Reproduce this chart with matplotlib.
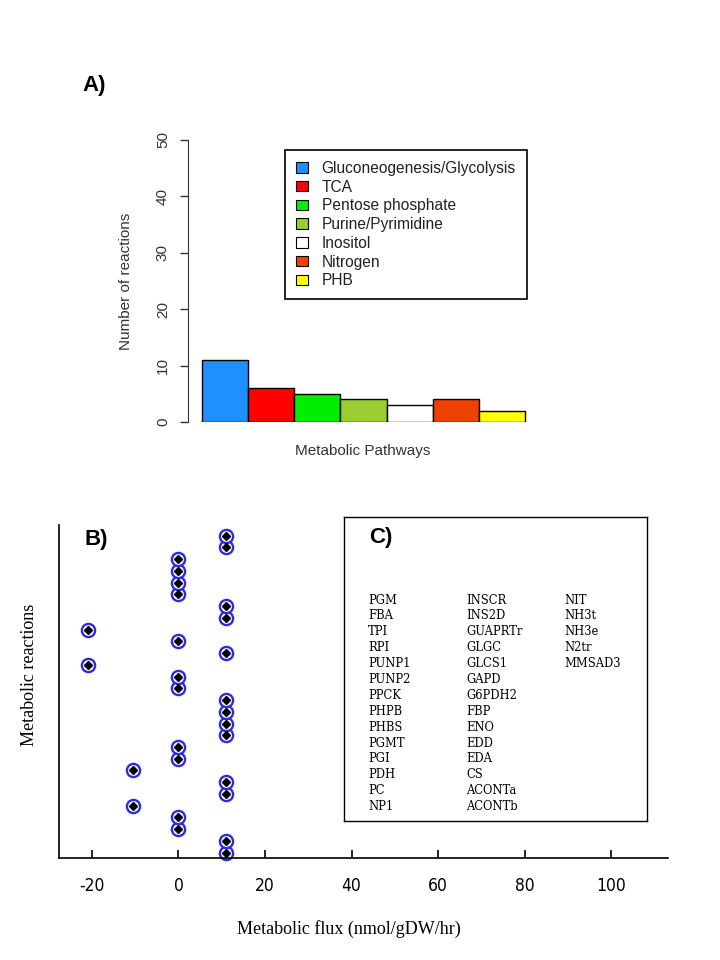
import matplotlib
matplotlib.use('Agg')
import matplotlib.pyplot as plt
import matplotlib.patches as mpatches

# Panel A - reaction counts per pathway
pathways = ['Gluconeogenesis/Glycolysis', 'TCA', 'Pentose phosphate',
            'Purine/Pyrimidine', 'Inositol', 'Nitrogen', 'PHB']
n_reactions = [11, 6, 5, 4, 3, 4, 2]
bar_colors = ['#1E90FF', '#FF0000', '#00EE00', '#9ACD32', '#FFFFFF', '#EE4000', '#FFFF00']

# Panel B - flux of each reaction (reaction index 0 at bottom)
flux = [10.9, 10.9, 0, 0, -10.6, 10.9, 10.9, -10.6, 0, 0,
        10.9, 10.9, 10.9, 10.9, 0, 0, -21, 10.9, 0, -21,
        10.9, 10.9, 0, 0, 0, 0, 10.9, 10.9]
flux_ticks = [-20, 0, 20, 40, 60, 80, 100]

# Panel C - reaction names in three columns
col1 = ['PGM', 'FBA', 'TPI', 'RPI', 'PUNP1', 'PUNP2', 'PPCK', 'PHPB',
        'PHBS', 'PGMT', 'PGI', 'PDH', 'PC', 'NP1']
col2 = ['INSCR', 'INS2D', 'GUAPRTr', 'GLGC', 'GLCS1', 'GAPD', 'G6PDH2',
        'FBP', 'ENO', 'EDD', 'EDA', 'CS', 'ACONTa', 'ACONTb']
col3 = ['NIT', 'NH3t', 'NH3e', 'N2tr', 'MMSAD3']

plt.rcParams['axes.unicode_minus'] = False

W, H = 720, 960
fig = plt.figure(figsize=(7.2, 9.6), dpi=100)
sans = ['Liberation Sans', 'DejaVu Sans']
serif = ['Liberation Serif', 'DejaVu Serif']


def box(x0, y0, x1, y1):
    # pixel box -> figure fraction rect
    return [x0 / W, 1 - y1 / H, (x1 - x0) / W, (y1 - y0) / H]


# ---------------- Panel A ----------------
axA = fig.add_axes(box(188, 140, 540, 422))
pos = list(range(len(n_reactions)))
axA.bar(pos, n_reactions, width=1.0, color=bar_colors, edgecolor='black', linewidth=1.0)
axA.set_xlim(-0.803, 6.825)
axA.set_ylim(0, 50)
for s in ['top', 'right', 'bottom']:
    axA.spines[s].set_visible(False)
axA.spines['left'].set_color('#333333')
axA.set_xticks([])
axA.set_yticks([0, 10, 20, 30, 40, 50])
axA.tick_params(axis='y', direction='out', length=6, width=1, colors='#333333', pad=7)
for lab in axA.get_yticklabels():
    lab.set_rotation(90)
    lab.set_va('center')
    lab.set_family(sans)
    lab.set_fontsize(11)
axA.set_ylabel('Number of reactions', family=sans, fontsize=11, color='#333333')
axA.yaxis.set_label_coords(-0.157, 0.5)
axA.set_xlabel('Metabolic Pathways', family=sans, fontsize=11, color='#333333')
axA.xaxis.set_label_coords(0.497, -0.078)

handles = [mpatches.Patch(facecolor=c, edgecolor='black', linewidth=0.8) for c in bar_colors]
leg = axA.legend(handles, pathways, loc='upper left',
                 bbox_to_anchor=(285 / W, 1 - 150 / H), bbox_transform=fig.transFigure,
                 borderaxespad=0, prop={'family': sans, 'size': 11.2},
                 handlelength=0.8, handleheight=0.65, handletextpad=0.85,
                 labelspacing=0.24, borderpad=0.7, fancybox=False, framealpha=1)
leg.get_frame().set_edgecolor('black')
leg.get_frame().set_linewidth(1.2)
for t in leg.get_texts():
    t.set_color('#222222')

fig.text(82 / W, 1 - 85 / H, 'A)', family=sans, fontsize=16, fontweight='bold', va='center')

# ---------------- Panel B ----------------
axB = fig.add_axes(box(59, 525, 668, 858))
idx = list(range(len(flux)))
axB.plot(flux, idx, linestyle='none', marker='o', markersize=9.5,
         markerfacecolor='white', markeredgecolor='#2B2BE8', markeredgewidth=1.7, clip_on=False)
axB.plot(flux, idx, linestyle='none', marker='D', markersize=4,
         markerfacecolor='black', markeredgecolor='black', clip_on=False)
axB.set_xlim(-27.6, 113.1)
axB.set_ylim(-0.45, 27.9)
axB.spines['top'].set_visible(False)
axB.spines['right'].set_visible(False)
axB.spines['left'].set_linewidth(1.2)
axB.spines['bottom'].set_linewidth(1.2)
axB.set_yticks([])
axB.set_xticks(flux_ticks)
axB.tick_params(axis='x', direction='in', length=6, width=1.2, pad=14)
for lab in axB.get_xticklabels():
    lab.set_family(['DejaVu Sans', 'Liberation Sans'])
    lab.set_stretch('condensed')
    lab.set_fontsize(12.5)
axB.set_xlabel('Metabolic flux (nmol/gDW/hr)', family=serif, fontsize=13)
axB.xaxis.set_label_coords(0.476, -0.186)
axB.set_ylabel('Metabolic reactions', family=serif, fontsize=13)
axB.yaxis.set_label_coords(-0.035, 0.55)

fig.text(84 / W, 1 - 540 / H, 'B)', family=sans, fontsize=16, fontweight='bold', va='center')

# ---------------- Panel C ----------------
axC = fig.add_axes(box(344, 517, 647, 821))
axC.set_xticks([])
axC.set_yticks([])
axC.set_xlim(344, 647)
axC.set_ylim(821, 517)
for s in axC.spines.values():
    s.set_linewidth(1.0)
axC.text(369, 538, 'C)', family=sans, fontsize=16, fontweight='bold', va='center')
row_h = 15.9
for col, x0 in [(col1, 368), (col2, 466), (col3, 564)]:
    for i, name in enumerate(col):
        axC.text(x0, 600 + i * row_h, name, family=['DejaVu Serif'], fontsize=8.3, va='center')

fig.savefig('out.png', dpi=100)
